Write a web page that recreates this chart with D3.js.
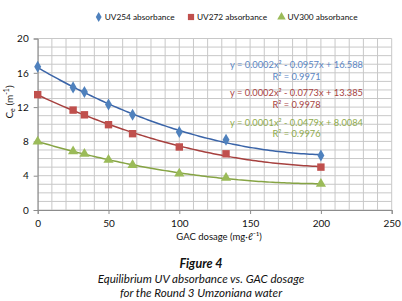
<!DOCTYPE html>
<html>
<head>
<meta charset="utf-8">
<script src="https://cdn.jsdelivr.net/npm/d3@7"></script>
<style>
  body { margin: 0; background: #fff; }
  svg { display: block; font-family: Lato, "Open Sans", sans-serif; }
</style>
</head>
<body>
<div id="chart"></div>
<script>
// data
const dosage = [0, 25, 33, 50, 67, 100, 133, 200];
const uv254 = [16.7, 14.3, 13.75, 12.3, 11.1, 9.1, 8.2, 6.35];
const uv272 = [13.45, 11.65, 11.1, 9.95, 8.9, 7.35, 6.55, 5.0];
const uv300 = [7.97, 6.85, 6.55, 5.85, 5.25, 4.25, 3.75, 3.05];
const seriesNames = ["UV254 absorbance", "UV272 absorbance", "UV300 absorbance"];
const equations = [
  ["y = 0.0002x² - 0.0957x + 16.588", "R² = 0.9971"],
  ["y = 0.0002x² - 0.0773x + 13.385", "R² = 0.9978"],
  ["y = 0.0001x² - 0.0479x + 8.0084", "R² = 0.9976"]
];
const xTicks = [0, 50, 100, 150, 200, 250];
const yTicks = [0, 4, 8, 12, 16, 20];

const width = 402, height = 301;
const margin = { top: 38.5, right: 10.3, bottom: 91, left: 37.7 };
const plotW = width - margin.left - margin.right;
const plotH = height - margin.top - margin.bottom;

const svg = d3.select("#chart").append("svg")
  .attr("width", width).attr("height", height);

const g = svg.append("g")
  .attr("transform", `translate(${margin.left},${margin.top})`);

const x = d3.scaleLinear().domain([0, 250]).range([0, plotW]);
const y = d3.scaleLinear().domain([0, 20]).range([plotH, 0]);

// gridlines
g.append("g").selectAll("line")
  .data(d3.range(0, 251, 10))
  .join("line")
  .attr("x1", d => x(d)).attr("x2", d => x(d))
  .attr("y1", 0).attr("y2", plotH)
  .attr("stroke", "#c8c8c8").attr("stroke-width", 1);
g.append("g").selectAll("line")
  .data(d3.range(0, 21, 1))
  .join("line")
  .attr("x1", 0).attr("x2", plotW)
  .attr("y1", d => y(d)).attr("y2", d => y(d))
  .attr("stroke", "#c8c8c8").attr("stroke-width", 1);

// axes
const xAxis = g.append("g")
  .attr("transform", `translate(0,${plotH})`)
  .call(d3.axisBottom(x).tickValues(xTicks).tickSize(4).tickPadding(6));
const yAxis = g.append("g")
  .call(d3.axisLeft(y).tickValues(yTicks).tickSize(4).tickPadding(5));
[xAxis, yAxis].forEach(a => {
  a.select(".domain").attr("stroke", "#8c8c8c");
  a.selectAll(".tick line").attr("stroke", "#8c8c8c");
  a.selectAll("text").attr("font-size", 10).attr("fill", "#111")
    .attr("font-family", "Lato, sans-serif");
});

// axis titles
svg.append("text")
  .attr("x", 219).attr("y", 240)
  .attr("text-anchor", "middle")
  .attr("font-size", 9.5).attr("fill", "#111")
  .text("GAC dosage (mg·ℓ⁻¹)");

const yTitle = svg.append("text")
  .attr("transform", "translate(13,102) rotate(-90)")
  .attr("text-anchor", "middle")
  .attr("font-size", 10).attr("fill", "#111");
yTitle.append("tspan").text("C");
yTitle.append("tspan").attr("font-size", 7).attr("dy", 2).text("e");
yTitle.append("tspan").attr("dy", -2).text(" (m");
yTitle.append("tspan").attr("font-size", 7).attr("dy", -4).text("-1");
yTitle.append("tspan").attr("dy", 4).text(")");

// quadratic least-squares trendline from the points
function quadFit(xs, ys) {
  let s = [0, 0, 0, 0, 0], t = [0, 0, 0];
  xs.forEach((xv, i) => {
    for (let k = 0; k < 5; k++) s[k] += Math.pow(xv, k);
    for (let k = 0; k < 3; k++) t[k] += Math.pow(xv, k) * ys[i];
  });
  const M = [[s[0], s[1], s[2], t[0]], [s[1], s[2], s[3], t[1]], [s[2], s[3], s[4], t[2]]];
  for (let i = 0; i < 3; i++) {
    for (let j = i + 1; j < 3; j++) {
      const f = M[j][i] / M[i][i];
      for (let k = i; k < 4; k++) M[j][k] -= f * M[i][k];
    }
  }
  const c = [0, 0, 0];
  for (let i = 2; i >= 0; i--) {
    let v = M[i][3];
    for (let k = i + 1; k < 3; k++) v -= M[i][k] * c[k];
    c[i] = v / M[i][i];
  }
  return xv => c[0] + c[1] * xv + c[2] * xv * xv;
}

const series = [
  { name: seriesNames[0], values: uv254, color: "#4f81bd", line: "#3a64a8", text: "#5b86c4", shape: d3.symbolDiamond, size: 42 },
  { name: seriesNames[1], values: uv272, color: "#c0504d", line: "#a6403e", text: "#a8433f", shape: d3.symbolSquare, size: 55 },
  { name: seriesNames[2], values: uv300, color: "#9bbb59", line: "#86a444", text: "#8fab4b", shape: d3.symbolTriangle, size: 45 }
];

const line = d3.line().x(d => x(d[0])).y(d => y(d[1])).curve(d3.curveBasis);

series.forEach(s => {
  const f = quadFit(dosage, s.values);
  const xs = d3.range(0, 200.5, 2);
  g.append("path")
    .attr("fill", "none")
    .attr("stroke", s.line)
    .attr("stroke-width", 1.5)
    .attr("d", line(xs.map(v => [v, f(v)])));
});

series.forEach(s => {
  g.selectAll(null)
    .data(dosage.map((d, i) => [d, s.values[i]]))
    .join("path")
    .attr("transform", d => `translate(${x(d[0])},${y(d[1])})`)
    .attr("d", d3.symbol().type(s.shape).size(s.size))
    .attr("fill", s.color);
});

// trendline equations
const eqY = [65, 93.3, 122.7];
series.forEach((s, i) => {
  const t = svg.append("text")
    .attr("text-anchor", "middle")
    .attr("font-size", 9.3).attr("fill", s.text);
  t.append("tspan").attr("x", 296.5).attr("y", eqY[i] + 3)
    .text(equations[i][0]);
  t.append("tspan").attr("x", 296.5).attr("y", eqY[i] + 14.5)
    .text(equations[i][1]);
});

// legend
const legX = [98.7, 191, 281.5];
series.forEach((s, i) => {
  svg.append("path")
    .attr("transform", `translate(${legX[i]},17)`)
    .attr("d", d3.symbol().type(s.shape).size(s.size * 0.7))
    .attr("fill", s.color);
  svg.append("text")
    .attr("x", legX[i] + 6).attr("y", 20)
    .attr("font-size", 8.3).attr("fill", "#111")
    .text(s.name);
});

// caption
svg.append("text")
  .attr("x", 201).attr("y", 267.5)
  .attr("text-anchor", "middle")
  .attr("font-size", 12.5).attr("font-weight", "bold").attr("font-style", "italic")
  .attr("fill", "#111")
  .text("Figure 4");
svg.append("text")
  .attr("x", 201).attr("y", 283.3)
  .attr("text-anchor", "middle")
  .attr("font-size", 11.6).attr("font-style", "italic").attr("fill", "#111")
  .text("Equilibrium UV absorbance vs. GAC dosage");
svg.append("text")
  .attr("x", 201).attr("y", 297.3)
  .attr("text-anchor", "middle")
  .attr("font-size", 11.6).attr("font-style", "italic").attr("fill", "#111")
  .text("for the Round 3 Umzoniana water");
</script>
</body>
</html>
